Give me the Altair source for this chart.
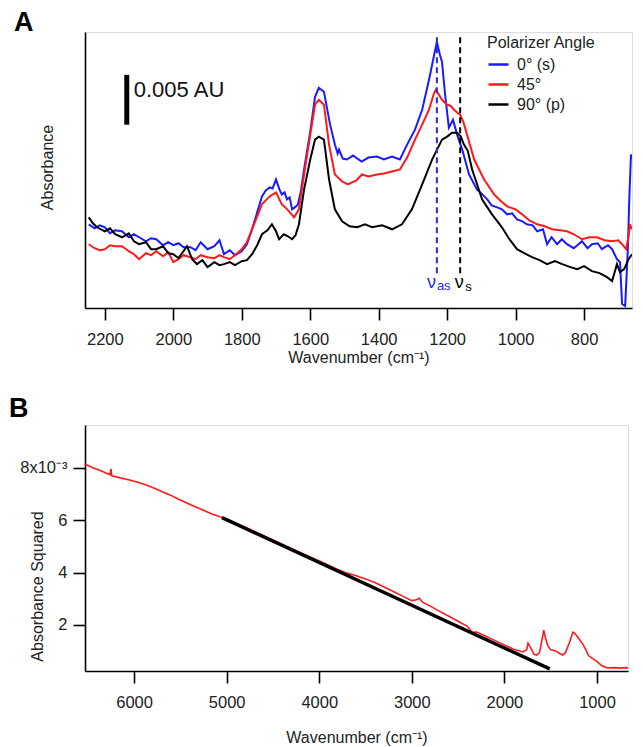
import altair as alt
import pandas as pd

FONT = "Liberation Sans"

# ---------------- Panel A data (absorbance) ----------------
blue_wn = [2247, 2230, 2215, 2200, 2185, 2170, 2150, 2130, 2115, 2100, 2080, 2065, 2050, 2030, 2015, 2000,
           1985, 1970, 1950, 1935, 1920, 1900, 1880, 1865, 1852, 1835, 1820, 1800, 1785, 1770, 1755, 1741,
           1730, 1718, 1710, 1700, 1690, 1683, 1675, 1668, 1660, 1653, 1645, 1636, 1627, 1618, 1600, 1586,
           1575, 1560, 1542, 1528, 1520, 1516, 1505, 1493, 1475, 1450, 1430, 1405, 1385, 1361, 1338, 1317,
           1294, 1273, 1253, 1238, 1230, 1221, 1215, 1206, 1195, 1183, 1171, 1156, 1136, 1113, 1100, 1083,
           1070, 1054, 1040, 1025, 1010, 996, 980, 967, 950, 937, 920, 908, 895, 879, 865, 850, 830, 806,
           790, 777, 760, 748, 730, 718, 704, 695, 689, 680, 672, 668, 663, 660]
blue_ab = [0.0084, 0.0080, 0.0083, 0.0081, 0.0075, 0.0078, 0.0077, 0.0071, 0.0074, 0.0071, 0.0067, 0.0070,
           0.0069, 0.0063, 0.0066, 0.0063, 0.0065, 0.0061, 0.0061, 0.0058, 0.0066, 0.0059, 0.0062, 0.0068,
           0.0054, 0.0058, 0.0053, 0.0057, 0.0064, 0.0079, 0.0096, 0.0112, 0.0118, 0.0121, 0.0120, 0.0129,
           0.0119, 0.0114, 0.0116, 0.0109, 0.0111, 0.0099, 0.0101, 0.0104, 0.0118, 0.0139, 0.0177, 0.0212,
           0.0221, 0.0217, 0.0184, 0.0164, 0.0155, 0.0159, 0.0150, 0.0149, 0.0153, 0.0147, 0.0151, 0.0152,
           0.0149, 0.0152, 0.0149, 0.0164, 0.0179, 0.0199, 0.0229, 0.0254, 0.0267, 0.0254, 0.0247, 0.0214,
           0.0181, 0.0189, 0.0174, 0.0159, 0.0134, 0.0119, 0.0115, 0.0109, 0.0103, 0.0101, 0.0099, 0.0094,
           0.0095, 0.0089, 0.0087, 0.0084, 0.0083, 0.0077, 0.0079, 0.0064, 0.0071, 0.0064, 0.0069, 0.0064,
           0.0060, 0.0067, 0.0060, 0.0064, 0.0065, 0.0059, 0.0063, 0.0059, 0.0049, 0.0046, 0.0004, 0.0002,
           0.0060, 0.0109, 0.0154, 0.0149]

red_wn = [2247, 2230, 2215, 2200, 2185, 2170, 2150, 2130, 2115, 2100, 2080, 2065, 2050, 2030, 2015, 2000,
          1985, 1970, 1950, 1935, 1920, 1900, 1880, 1865, 1852, 1835, 1820, 1800, 1785, 1770, 1755, 1741,
          1730, 1718, 1700, 1683, 1670, 1662, 1647, 1633, 1618, 1600, 1586, 1575, 1560, 1545, 1528, 1507,
          1490, 1478, 1465, 1449, 1430, 1405, 1385, 1361, 1338, 1317, 1294, 1273, 1253, 1238, 1233, 1215,
          1200, 1190, 1180, 1170, 1162, 1152, 1142, 1121, 1092, 1063, 1045, 1025, 1000, 981, 960, 937, 915,
          893, 870, 850, 830, 806, 785, 762, 740, 718, 700, 689, 677, 670, 666, 660]
red_ab = [0.0064, 0.0060, 0.0058, 0.0059, 0.0063, 0.0062, 0.0062, 0.0057, 0.0054, 0.0049, 0.0055, 0.0053,
          0.0057, 0.0052, 0.0056, 0.0046, 0.0049, 0.0053, 0.0051, 0.0049, 0.0053, 0.0051, 0.0050, 0.0053,
          0.0051, 0.0049, 0.0053, 0.0059, 0.0066, 0.0079, 0.0092, 0.0104, 0.0108, 0.0112, 0.0116, 0.0104,
          0.0100, 0.0097, 0.0091, 0.0099, 0.0134, 0.0174, 0.0204, 0.0209, 0.0204, 0.0164, 0.0134, 0.0127,
          0.0124, 0.0126, 0.0128, 0.0134, 0.0132, 0.0134, 0.0135, 0.0137, 0.0139, 0.0151, 0.0169, 0.0184,
          0.0199, 0.0216, 0.0219, 0.0209, 0.0204, 0.0203, 0.0199, 0.0196, 0.0194, 0.0186, 0.0174, 0.0149,
          0.0129, 0.0114, 0.0108, 0.0102, 0.0099, 0.0094, 0.0088, 0.0084, 0.0082, 0.0079, 0.0078, 0.0077,
          0.0074, 0.0069, 0.0071, 0.0071, 0.0068, 0.0067, 0.0068, 0.0064, 0.0059, 0.0072, 0.0084, 0.0079]

black_wn = [2247, 2235, 2223, 2200, 2185, 2170, 2150, 2130, 2115, 2100, 2080, 2065, 2050, 2030, 2015, 2000,
            1985, 1960, 1945, 1931, 1915, 1900, 1880, 1865, 1852, 1835, 1820, 1800, 1785, 1770, 1755, 1741,
            1725, 1712, 1700, 1691, 1677, 1665, 1653, 1643, 1633, 1618, 1600, 1586, 1575, 1560, 1545, 1528,
            1507, 1485, 1463, 1440, 1419, 1390, 1361, 1332, 1303, 1273, 1244, 1215, 1200, 1186, 1171, 1160,
            1151, 1140, 1127, 1098, 1069, 1040, 1020, 996, 975, 952, 930, 908, 885, 864, 840, 820, 800, 777,
            755, 733, 718, 704, 695, 683, 670, 660]
black_ab = [0.0091, 0.0085, 0.0081, 0.0077, 0.0080, 0.0074, 0.0071, 0.0075, 0.0067, 0.0064, 0.0066, 0.0059,
            0.0059, 0.0062, 0.0055, 0.0054, 0.0050, 0.0062, 0.0049, 0.0044, 0.0048, 0.0041, 0.0046, 0.0043,
            0.0044, 0.0046, 0.0043, 0.0047, 0.0048, 0.0054, 0.0063, 0.0074, 0.0078, 0.0084, 0.0077, 0.0069,
            0.0074, 0.0072, 0.0069, 0.0073, 0.0084, 0.0119, 0.0149, 0.0169, 0.0172, 0.0169, 0.0129, 0.0099,
            0.0087, 0.0082, 0.0081, 0.0084, 0.0081, 0.0083, 0.0079, 0.0084, 0.0099, 0.0124, 0.0149, 0.0169,
            0.0172, 0.0176, 0.0176, 0.0172, 0.0164, 0.0158, 0.0139, 0.0109, 0.0094, 0.0081, 0.0070, 0.0059,
            0.0055, 0.0051, 0.0048, 0.0044, 0.0047, 0.0044, 0.0041, 0.0039, 0.0042, 0.0037, 0.0035, 0.0031,
            0.0027, 0.0044, 0.0036, 0.0039, 0.0049, 0.0054]

series_names = ["0° (s)", "45°", "90° (p)"]
series_colors = ["#1a1aff", "#ff1a1a", "#000000"]

a_ticks = [2200, 2000, 1800, 1600, 1400, 1200, 1000, 800]
a_xdomain = [2258, 660]
a_ydomain = [0, 0.0277]

# annotation data
peak_wn = [1230, 1162]          # nu_as, nu_s
peak_colors = ["#2a2ae0", "#000000"]
peak_y = [0.0035, 0.0272]
label_y = [0.0020]
scalebar_wn = [2136]
scalebar_y = [0.0184, 0.0234]

# ---------------- Panel B data (absorbance squared, x10^-3) ----------------
b_wn = [6530, 6490, 6450, 6410, 6350, 6300, 6260, 6250, 6240, 6150, 6050, 5950, 5870, 5780, 5690, 5600,
        5520, 5430, 5340, 5250, 5160, 5080, 5000, 4800, 4600, 4400, 4200, 4000, 3800, 3700, 3600, 3500,
        3400, 3300, 3200, 3100, 3000, 2950, 2920, 2880, 2800, 2700, 2600, 2500, 2400, 2350, 2300, 2200,
        2100, 2000, 1900, 1800, 1760, 1745, 1720, 1680, 1650, 1620, 1590, 1575, 1560, 1530, 1500, 1470,
        1430, 1400, 1370, 1340, 1300, 1260, 1240, 1200, 1150, 1120, 1090, 1060, 1000, 950, 900, 850,
        800, 750, 700, 665]
b_ab2 = [8.15, 8.08, 8.02, 7.96, 7.88, 7.8, 7.74, 7.96, 7.7, 7.62, 7.54, 7.44, 7.35, 7.22, 7.08, 6.95,
         6.8, 6.66, 6.52, 6.38, 6.24, 6.14, 6.05, 5.73, 5.41, 5.08, 4.76, 4.44, 4.12, 3.98, 3.88, 3.76,
         3.62, 3.45, 3.28, 3.1, 2.93, 2.96, 3.02, 2.86, 2.72, 2.52, 2.33, 2.14, 1.95, 1.72, 1.73, 1.57,
         1.4, 1.23, 1.07, 0.97, 1.05, 1.3, 1.15, 0.88, 0.85, 0.95, 1.5, 1.8, 1.55, 1.2, 1.05, 1.03,
         0.98, 0.9, 0.85, 0.95, 1.3, 1.72, 1.68, 1.5, 1.25, 1.05, 0.82, 0.75, 0.6, 0.45, 0.37, 0.36,
         0.37, 0.35, 0.37, 0.36]
fit_wn = [5050, 1510]
fit_ab2 = [6.1, 0.32]

b_xticks = [6000, 5000, 4000, 3000, 2000, 1000]
b_yticks = [2, 4, 6, 8]
b_xdomain = [6530, 665]
b_ydomain = [0.24, 9.64]

# ---------------- build tables ----------------
rows = []
for name, wn, ab in zip(series_names, [blue_wn, red_wn, black_wn], [blue_ab, red_ab, black_ab]):
    for w, a in zip(wn, ab):
        rows.append({"wn": w, "ab": a, "angle": name})
dfA = pd.DataFrame(rows)

peaks = pd.DataFrame({"wn": peak_wn, "y1": [peak_y[0]] * 2, "y2": [peak_y[1]] * 2, "c": peak_colors})
scalebar = pd.DataFrame({"wn": scalebar_wn, "y1": [scalebar_y[0]], "y2": [scalebar_y[1]]})
nu_as_df = pd.DataFrame({"wn": [peak_wn[0]], "y": label_y})
nu_s_df = pd.DataFrame({"wn": [peak_wn[1]], "y": label_y})
dfB = pd.DataFrame({"wn": b_wn, "ab2": b_ab2})
dfFit = pd.DataFrame({"wn": fit_wn, "ab2": fit_ab2})

axis_common = dict(domainColor="#000", domainWidth=1.6, tickColor="#000", tickWidth=1.6,
                   labelFont=FONT, labelFontSize=16.5, labelColor="#222", titleFont=FONT,
                   titleFontSize=16, titleColor="#222", titleFontWeight="normal", grid=False)

xA = alt.X("wn:Q", scale=alt.Scale(domain=a_xdomain, nice=False, zero=False),
           axis=alt.Axis(values=a_ticks, format="d", title="Wavenumber (cm⁻¹)", tickSize=12,
                         labelPadding=11, titlePadding=2, **axis_common))
yA = alt.Y("ab:Q", scale=alt.Scale(domain=a_ydomain, nice=False, zero=False, clamp=True),
           axis=alt.Axis(title="Absorbance", labels=False, ticks=False, titleX=-38, titleY=135,
                         titleBaseline="middle", **axis_common))

linesA = alt.Chart(dfA).mark_line(strokeWidth=2, clip=True).encode(
    x=xA, y=yA,
    color=alt.Color("angle:N", scale=alt.Scale(domain=series_names, range=series_colors),
                    sort=series_names,
                    legend=alt.Legend(title="Polarizer Angle", orient="none", legendX=402, legendY=3,
                                      symbolType="stroke", symbolSize=400, symbolStrokeWidth=2.5,
                                      titleFont=FONT, titleFontSize=16, titleFontWeight="normal",
                                      titleColor="#222", labelFont=FONT, labelFontSize=16,
                                      labelColor="#222", rowPadding=0, titlePadding=2, labelOffset=7,
                                      padding=0))
)

dash = alt.Chart(peaks).mark_rule(strokeWidth=2, strokeDash=[6, 4]).encode(
    x="wn:Q", y="y1:Q", y2="y2:Q", color=alt.Color("c:N", scale=None)
)

bar = alt.Chart(scalebar).mark_rule(strokeWidth=5, color="#000").encode(
    x="wn:Q", y="y1:Q", y2="y2:Q"
)
bar_text = alt.Chart(scalebar).mark_text(text="0.005 AU", align="left", baseline="middle", dx=7, dy=15,
                                         font=FONT, fontSize=22, color="#111").encode(
    x="wn:Q", y="y2:Q"
)

nu_as_main = alt.Chart(nu_as_df).mark_text(
    text="ν", baseline="alphabetic", align="right", dx=-1, font=FONT, fontSize=18, color=peak_colors[0]
).encode(x="wn:Q", y="y:Q")
nu_as = alt.Chart(nu_as_df).mark_text(
    text="as", baseline="top", align="left", dx=0, dy=-8, font=FONT, fontSize=13, color=peak_colors[0]
).encode(x="wn:Q", y="y:Q")
nu_s_main = alt.Chart(nu_s_df).mark_text(
    text="ν", baseline="alphabetic", align="center", dx=-1, font=FONT, fontSize=18, color="#000"
).encode(x="wn:Q", y="y:Q")
nu_s = alt.Chart(nu_s_df).mark_text(
    text="s", baseline="top", align="left", dx=5, dy=-7, font=FONT, fontSize=13, color="#000"
).encode(x="wn:Q", y="y:Q")

panelA = alt.layer(linesA, dash, bar, bar_text, nu_as_main, nu_as, nu_s_main, nu_s).properties(
    width=547, height=276,
    title=alt.TitleParams("A", anchor="start", frame="group", font=FONT, fontSize=27,
                          fontWeight="bold", dx=-71, offset=-5, color="#000")
)

# ---------------- Panel B ----------------
xB = alt.X("wn:Q", scale=alt.Scale(domain=b_xdomain, nice=False, zero=False),
           axis=alt.Axis(values=b_xticks, format="d", title="Wavenumber (cm⁻¹)", tickSize=12,
                         labelPadding=11, titlePadding=19, **axis_common))
yB = alt.Y("ab2:Q", scale=alt.Scale(domain=b_ydomain, nice=False, zero=False),
           axis=alt.Axis(values=b_yticks, title="Absorbance Squared", tickSize=12, labelPadding=6,
                         labelExpr="datum.value == 8 ? '8x10⁻³' : datum.label",
                         titleX=-48, titleY=161, titleBaseline="middle", **axis_common))

redB = alt.Chart(dfB).mark_line(strokeWidth=1.6, color="#ff1a1a").encode(x=xB, y=yB)
fitB = alt.Chart(dfFit).mark_line(strokeWidth=3.5, color="#000").encode(x="wn:Q", y="ab2:Q")

panelB = alt.layer(redB, fitB).properties(
    width=543, height=246,
    title=alt.TitleParams("B", anchor="start", frame="group", font=FONT, fontSize=27,
                          fontWeight="bold", dx=-76, offset=2, color="#000")
)

chart = alt.vconcat(panelA, panelB, spacing=28).properties(
    padding={"left": 0, "top": 0, "right": 0, "bottom": 0}
).configure_view(strokeWidth=0).configure(font=FONT)

chart.save("out.html", embed_options={"renderer": "svg", "actions": False})
